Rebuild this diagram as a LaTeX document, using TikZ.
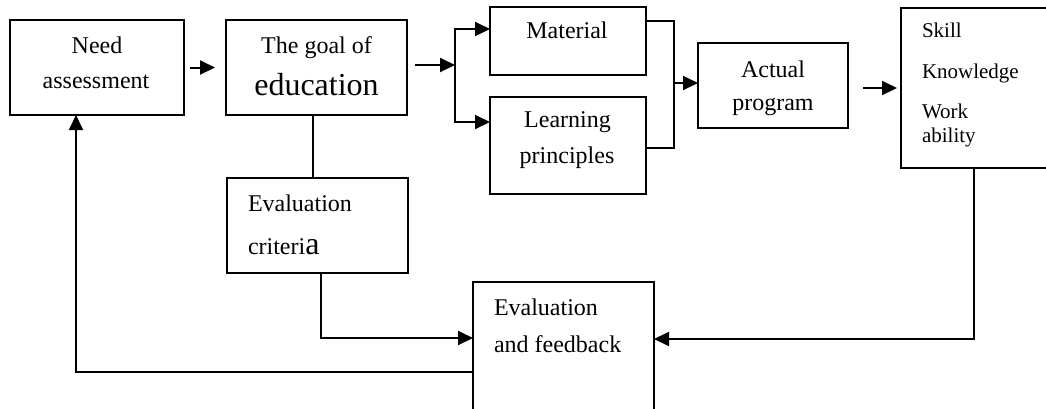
\documentclass[tikz,border=0pt]{standalone}
\usepackage{fontspec}
\setmainfont{Liberation Serif}
\usetikzlibrary{arrows.meta}
\begin{document}
\begin{tikzpicture}[x=0.5pt,y=-0.5pt,
  box/.style={draw,line width=0.8pt,inner sep=0pt,outer sep=0pt,rectangle},
  lbl/.style={inner sep=0pt,outer sep=0pt,font=\fontsize{12}{14}\selectfont,anchor=base},
  lblw/.style={lbl,anchor=base west},
  small/.style={inner sep=0pt,outer sep=0pt,font=\fontsize{10.5}{12}\selectfont,anchor=base west},
  conn/.style={line width=1pt},
  arr/.style={conn,-{Triangle[length=7.5pt,width=7pt]}}]
\fill[white] (0,0) rectangle (1046,408);
\useasboundingbox (0,0) rectangle (1046,408);
% boxes
\node[box,minimum width=87pt,minimum height=47.5pt] (need) at (97,67.5) {};
\node[box,minimum width=90.5pt,minimum height=47.5pt] (goal) at (316.5,67.5) {};
\node[box,minimum width=78pt,minimum height=34pt] (material) at (568,41) {};
\node[box,minimum width=78pt,minimum height=48.5pt] (learning) at (568,145.5) {};
\node[box,minimum width=75pt,minimum height=42.5pt] (actual) at (773,85.5) {};
\node[box,minimum width=74.5pt,minimum height=80pt] (skill) at (975.5,88) {};
\node[box,minimum width=90.5pt,minimum height=47.5pt] (criteria) at (317.5,225.5) {};
\node[box,minimum width=90.5pt,minimum height=65pt] (feedback) at (563.5,347) {};
% texts
\node[lbl] (t1) at (97,53) {Need};
\node[lbl] (t2) at (96,88) {assessment};
\node[lbl] (t3) at (316.5,53) {The goal of};
\node[lbl,font=\fontsize{16}{18}\selectfont] (t4) at (316.5,95) {education};
\node[lbl] (t5) at (567,38) {Material};
\node[lbl] (t6) at (567.5,127) {Learning};
\node[lbl] (t7) at (567,163) {principles};
\node[lbl] (t8) at (773,77) {Actual};
\node[lbl] (t9) at (773,110) {program};
\node[small] (t10) at (922,37) {Skill};
\node[small] (t11) at (922,78) {Knowledge};
\node[small] (t12) at (922,118) {Work};
\node[small] (t13) at (922,142) {ability};
\node[lblw] (t14) at (248,211) {Evaluation};
\node[lblw] (t15) at (248,254) {criteri{\fontsize{16}{18}\selectfont a}};
\node[lblw] (t16) at (494,315) {Evaluation};
\node[lblw] (t17) at (494,352) {and feedback};
% connectors
\draw[arr,shorten <=3pt,shorten >=5.5pt] (need.east) -- (goal.west);
\coordinate (br) at (455,65);
\draw[arr,shorten <=4pt] (goal.east |- br) -- (br);
\draw[arr] (br) |- (material.west |- 0,29);
\draw[arr] (br) |- (learning.west |- 0,122);
\coordinate (mj) at (674,83);
\draw[conn] (material.east |- 0,21) -| (mj) |- (learning.east |- 0,148);
\draw[arr] (mj) -- (actual.west |- mj);
\draw[arr,shorten <=7.5pt,shorten >=2pt] (actual.east |- 0,88) -- (skill.west |- 0,88);
\draw[conn] (goal.south -| 313,0) -- (criteria.north -| 313,0);
\draw[arr] (criteria.south -| 321,0) |- (feedback.west |- 0,338);
\draw[arr] (skill.south -| 974,0) |- (feedback.east |- 0,339);
\draw[arr] (feedback.west |- 0,372) -| (need.south -| 76,0);
\end{tikzpicture}
\end{document}
